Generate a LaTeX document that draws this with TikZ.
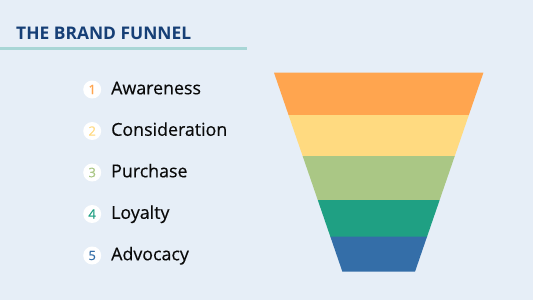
\documentclass[tikz,border=0pt]{standalone}
\usepackage{fontspec}
\setmainfont{Open Sans}
\newfontfamily\itemfont[FakeBold=0.35]{Open Sans}
\definecolor{bg}{HTML}{E6EEF7}
\definecolor{titleblue}{HTML}{163F76}
\definecolor{rule}{HTML}{A8D6D6}
\definecolor{cA}{HTML}{FFA54F}
\definecolor{cB}{HTML}{FFDA80}
\definecolor{cC}{HTML}{AAC785}
\definecolor{cD}{HTML}{1FA083}
\definecolor{cE}{HTML}{346EA8}
\definecolor{ink}{HTML}{0A0A0A}
\begin{document}
\begin{tikzpicture}[x=1pt,y=-1pt,
  numdot/.style={circle,fill=white,minimum size=18pt,inner sep=0pt,font=\fontsize{13}{14}\itemfont},
  itemtext/.style={anchor=base west,inner sep=0pt,text=ink,font=\fontsize{17.8}{20}\itemfont}]
\fill[bg] (0,0) rectangle (533,300);
\useasboundingbox (0,0) rectangle (533,300);
% title
\node[anchor=base west,inner sep=0pt,text=titleblue,font=\fontsize{17.4}{20}\selectfont\bfseries] (title) at (16,39) {THE BRAND FUNNEL};
\draw[rule,line width=2.8pt] (0,48.7) -- (246.5,48.7);
% list
\foreach \i/\t/\c in {1/Awareness/cA,2/Consideration/cB,3/Purchase/cC,4/Loyalty/cD,5/Advocacy/cE}{
  \pgfmathsetmacro{\yb}{94.3+(\i-1)*41.5}
  \node[numdot,text=\c] (n\i) at (92.2,\yb-4.8) {\i};
  \node[itemtext] (t\i) at (111,\yb) {\t};
}
% funnel
\def\cx{378.7}
\def\ytop{72.7}
\def\ybot{271.7}
\def\wt{104.7}
\def\wb{36.3}
\foreach \ya/\yb/\c [count=\k] in {72.7/115.2/cA,115/156.2/cB,156/200.2/cC,200/236.9/cD,236.7/271.7/cE}{
  \pgfmathsetmacro{\wa}{\wt-(\wt-\wb)*(\ya-\ytop)/(\ybot-\ytop)}
  \pgfmathsetmacro{\wbb}{\wt-(\wt-\wb)*(\yb-\ytop)/(\ybot-\ytop)}
  \fill[\c] (\cx-\wa,\ya) -- (\cx+\wa,\ya) -- (\cx+\wbb,\yb) -- (\cx-\wbb,\yb) -- cycle;
}
\end{tikzpicture}
\end{document}
